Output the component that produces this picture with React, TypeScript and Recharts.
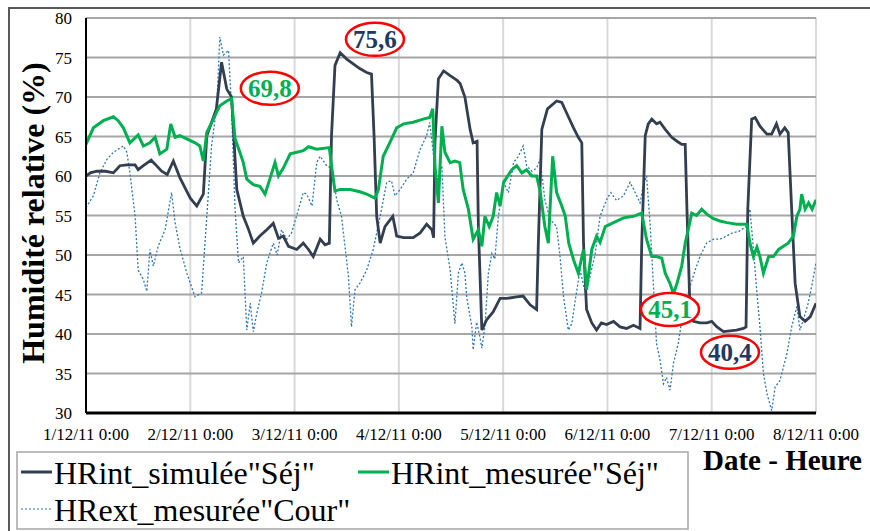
import { CartesianGrid, Line, LineChart, ReferenceDot, XAxis, YAxis } from "recharts";

const SERIF = "Liberation Serif, Times New Roman, serif";
const NAVY = "#333f50";
const GREEN = "#00b050";
const BLUE = "#2e75b6";

const DAY_LABELS = [
  "1/12/11 0:00", "2/12/11 0:00", "3/12/11 0:00", "4/12/11 0:00",
  "5/12/11 0:00", "6/12/11 0:00", "7/12/11 0:00", "8/12/11 0:00",
];
const X_TICKS = [0, 24, 48, 72, 96, 120, 144, 168];
const Y_TICKS = [30, 35, 40, 45, 50, 55, 60, 65, 70, 75, 80];

// HRint_simulée "Séj" (hours since 1/12/11 0:00)
const simHours = [
  0, 1, 2.5, 4.5, 6.3, 7.8, 9.4, 11.3, 12, 13.2, 15, 15.9, 17.4, 18.7, 20.1, 21.6, 24, 25.5, 27, 27.8,
  30, 31.2, 32.4, 33.5, 34.7, 36.2, 37.3, 38.5, 40, 41.6, 43.1, 44.3, 45.4, 46.6, 48.5, 50, 51.2, 52.3, 53.9, 55,
  56, 56.5, 57.3, 58.5, 60, 61.5, 63, 64.6, 65.7, 66.3, 66.9, 67.7, 68.8, 70.6, 71.5, 73.1, 75.3, 76.9, 78.4, 79.6,
  80, 80.3, 81.1, 82.3, 83.8, 85.4, 86.1, 87.2, 88.4, 89.1, 90, 90.3, 91.1, 92.2, 93.7, 95.3, 96.8, 99.1, 100.6, 102.2,
  103.7, 104.1, 104.9, 106.2, 108.3, 109.5, 110.5, 112.2, 113.3, 114.1, 114.5, 115.2, 116.4, 117.5, 118.6, 119.8, 121.4, 122.9, 124.4, 126,
  127.5, 127.9, 128.7, 129.4, 130.2, 131.3, 132.1, 133.3, 134.8, 136, 137.1, 137.9, 138.3, 139, 139.8, 141.3, 142.9, 144, 145.2, 146.7,
  148.2, 149.7, 151.3, 151.9, 152.3, 153.2, 154, 155.1, 156.7, 157.8, 158.9, 159.7, 160.8, 161.6, 162.4, 163.2, 164.3, 165.5, 166.7, 168,
];
const simValues = [
  60.0, 60.4, 60.6, 60.6, 60.4, 61.3, 61.4, 61.4, 60.8, 61.3, 62.0, 61.5, 60.6, 60.2, 61.9, 59.8, 57.2, 56.2, 57.7, 65.1,
  68.5, 74.4, 71.0, 70.0, 58.3, 54.9, 53.4, 51.5, 52.4, 53.2, 54.0, 52.1, 52.4, 51.1, 50.7, 51.5, 50.7, 49.8, 52.0, 51.3,
  51.5, 65.1, 74.0, 75.6, 74.8, 74.2, 73.6, 73.1, 72.9, 65.0, 54.9, 51.5, 53.6, 54.9, 52.4, 52.2, 52.2, 52.8, 53.9, 53.2,
  52.2, 64.2, 72.3, 73.3, 72.7, 72.1, 71.7, 70.0, 65.9, 64.2, 64.4, 53.6, 40.5, 41.8, 42.8, 44.5, 44.5, 44.7, 44.8, 43.7,
  43.1, 51.5, 65.9, 68.5, 69.5, 69.3, 68.1, 66.1, 64.9, 64.2, 51.5, 43.1, 41.4, 40.5, 41.4, 41.2, 41.6, 40.9, 40.7, 41.1,
  40.7, 51.5, 65.1, 66.6, 67.2, 66.6, 66.8, 65.9, 64.9, 64.4, 64.0, 64.0, 55.8, 43.1, 41.6, 41.4, 41.4, 41.6, 40.9, 40.3,
  40.4, 40.5, 40.7, 40.9, 55.8, 67.2, 67.4, 66.3, 65.3, 65.3, 66.6, 65.3, 66.1, 65.5, 55.8, 46.4, 42.2, 41.6, 42.2, 43.9,
];

// HRint_mesurée "Séj"
const mesHours = [
  0, 1.7, 4, 6.3, 7.4, 8.6, 10.1, 12, 13.2, 14.7, 15.9, 17, 18.6, 19.5, 20.5, 21.6, 23.2, 25.1, 26.2, 27,
  27.8, 29.3, 30.8, 32.4, 33.5, 34.3, 35.4, 36.2, 37, 38.5, 40, 41.2, 42.3, 43.5, 44.3, 45.4, 47, 48.5, 50, 51.2,
  53.1, 56, 56.5, 57.3, 58.5, 60.8, 63, 64.6, 66.5, 67.3, 68.4, 69.9, 71.5, 73.1, 75.3, 77.6, 79.1, 79.8, 80.3, 81.1,
  81.9, 82.6, 83.8, 84.9, 86, 86.8, 88, 89.1, 90.3, 91.1, 91.8, 92.8, 93.7, 94.5, 95.3, 96.1, 98, 99.1, 100.3, 101.4,
  102.6, 103.7, 104.5, 105.6, 106.4, 107.4, 108.3, 109.5, 110.3, 111.1, 112.2, 113.3, 114.5, 115.2, 116.4, 117.5, 118.3, 119.5, 121.4, 123.7,
  126, 127.9, 129, 130.2, 131.3, 132.5, 133.3, 134.4, 135.2, 136, 137.1, 137.9, 138.6, 139.4, 140.5, 141.7, 142.8, 144.4, 145.9, 147.5,
  149.8, 152.1, 152.8, 153.6, 154.4, 155.1, 155.9, 157.1, 158.2, 159.4, 160.5, 161.6, 162.8, 163.6, 164.3, 164.7, 165.5, 166.3, 167.1, 168,
];
const mesValues = [
  64.0, 66.1, 67.0, 67.5, 67.0, 66.1, 64.2, 65.2, 63.8, 64.2, 64.9, 62.8, 63.4, 66.6, 64.9, 65.1, 64.7, 64.2, 63.8, 61.9,
  65.5, 67.2, 68.9, 69.5, 69.8, 64.7, 63.0, 61.7, 59.6, 58.9, 58.7, 57.7, 59.6, 61.7, 60.0, 61.0, 62.8, 63.0, 63.2, 63.7,
  63.4, 63.6, 61.3, 58.1, 58.3, 58.3, 58.0, 57.7, 57.2, 58.3, 62.5, 64.2, 66.1, 66.6, 66.8, 67.2, 67.4, 68.5, 61.3, 56.6,
  66.3, 63.0, 61.7, 61.9, 61.7, 58.3, 55.8, 52.0, 53.2, 51.1, 54.9, 53.6, 54.9, 57.9, 56.2, 59.2, 60.8, 61.3, 60.4, 60.8,
  60.0, 60.0, 58.1, 53.6, 51.5, 62.5, 57.9, 56.2, 54.9, 51.5, 49.4, 47.7, 50.7, 45.6, 50.7, 52.4, 51.6, 53.6, 54.1, 54.7,
  54.9, 55.3, 52.0, 49.8, 49.8, 49.6, 47.7, 46.4, 45.1, 46.4, 48.6, 51.5, 53.2, 55.3, 55.0, 55.8, 55.2, 54.6, 54.3, 54.1,
  53.9, 53.9, 51.5, 49.8, 51.0, 49.8, 47.7, 49.8, 49.8, 50.7, 51.1, 51.5, 52.4, 54.9, 55.8, 57.7, 55.8, 56.6, 55.8, 57.0,
];

// HRext_mesurée "Cour"
const extHours = [
  0, 1.7, 3.2, 4.8, 6.3, 8.6, 9.4, 10.1, 11.3, 12, 13.2, 14, 14.7, 15.5, 16.6, 18.2, 19.7, 20.5, 21.6, 23.2,
  25.1, 26.6, 27.8, 28.9, 30.1, 30.8, 31.6, 32.8, 33.5, 34.3, 35.1, 36.2, 37, 37.8, 38.5, 39.3, 40.4, 41.6, 43.1, 44,
  45, 46.2, 47.3, 48.5, 50, 50.8, 52, 53.1, 53.9, 55.4, 56.5, 57.7, 58.8, 60.4, 61.1, 61.9, 63, 64.6, 66.1, 67.7,
  69.2, 70.3, 71.1, 72.3, 73.8, 75.3, 76.9, 78.4, 79.1, 79.9, 80.7, 81.9, 82.6, 83.8, 84.9, 85.7, 86.5, 87.2, 87.6, 88.8,
  89.1, 89.9, 90.7, 91.1, 91.8, 92.6, 93.4, 94.1, 94.9, 96.1, 97.2, 98.4, 99.5, 100.6, 101.4, 102.6, 103.7, 104.5, 105.6, 106.8,
  108.3, 109.1, 109.9, 111, 111.8, 112.6, 113.7, 114.9, 116, 117.2, 118.3, 119.8, 120.8, 122.1, 123.7, 125.2, 126.4, 127.5, 128.3, 129,
  129.8, 130.6, 131.3, 132.1, 132.9, 133.6, 134.4, 135.2, 136.3, 137.5, 139, 140.2, 141.3, 142.8, 144.4, 145.9, 147.4, 148.8, 150.3, 151.9,
  152.8, 153.6, 154.4, 155.1, 155.9, 156.7, 157.8, 158.6, 159.7, 161.3, 162.4, 163.6, 164.3, 165.1, 166.2, 167, 168,
];
const extValues = [
  56.0, 57.5, 60.4, 62.1, 63.0, 63.8, 63.0, 60.4, 54.9, 48.1, 46.9, 45.4, 50.7, 48.6, 51.1, 53.2, 57.9, 54.1, 50.9, 47.7,
  44.7, 45.2, 54.9, 63.8, 68.9, 77.6, 75.3, 75.9, 68.5, 55.8, 49.0, 49.8, 40.5, 43.9, 40.3, 42.6, 45.2, 49.0, 51.5, 50.0,
  53.2, 52.0, 52.8, 55.0, 57.9, 57.7, 56.2, 61.7, 62.5, 61.3, 61.0, 57.0, 54.9, 47.3, 40.9, 45.6, 46.4, 48.1, 50.7, 54.9,
  59.2, 59.4, 57.5, 58.3, 59.6, 60.4, 63.4, 65.1, 66.8, 63.0, 59.2, 61.3, 52.3, 48.1, 41.3, 47.7, 49.0, 47.7, 44.7, 40.9,
  38.0, 41.5, 39.5, 38.2, 40.9, 47.7, 50.2, 49.5, 54.9, 59.2, 57.9, 61.7, 62.5, 63.8, 61.3, 60.6, 61.0, 62.1, 57.0, 54.5,
  53.6, 49.8, 44.7, 40.5, 41.3, 44.3, 48.1, 45.2, 47.3, 50.2, 54.9, 57.0, 57.9, 56.9, 57.5, 59.2, 57.9, 56.6, 58.9, 60.0,
  54.1, 46.0, 38.8, 36.7, 33.7, 34.5, 32.9, 36.3, 38.8, 43.1, 46.0, 48.1, 49.8, 51.5, 52.0, 52.0, 52.4, 52.8, 53.0, 53.6,
  55.8, 50.7, 45.2, 40.9, 35.0, 32.5, 30.3, 33.3, 34.1, 37.5, 40.9, 43.5, 40.5, 41.8, 43.9, 46.0, 49.0,
];

const CALLOUTS = [
  { h: 42.3, v: 71.1, text: "69,8", color: GREEN },
  { h: 66.5, v: 77.3, text: "75,6", color: "#1f3864" },
  { h: 134.4, v: 43.1, text: "45,1", color: GREEN },
  { h: 148.2, v: 37.7, text: "40,4", color: "#1f3864" },
];

const zip = (hs: number[], vs: number[]) => hs.map((h, i) => ({ h, v: vs[i] }));
const simData = zip(simHours, simValues);
const mesData = zip(mesHours, mesValues);
const extData = zip(extHours, extValues);

const tickStyle = { fill: "#000", fontFamily: SERIF, fontSize: 17 };

function Callout({ cx, cy, text, color }: { cx?: number; cy?: number; text: string; color: string }) {
  if (cx == null || cy == null) return null;
  return (
    <g>
      <ellipse cx={cx} cy={cy} rx={29} ry={16.5} fill="#fff" stroke="#f00" strokeWidth={2.5} />
      <text x={cx} y={cy} dy="0.35em" textAnchor="middle" style={{ fontFamily: SERIF }} fontWeight="bold" fontSize={25} fill={color}>
        {text}
      </text>
    </g>
  );
}

function LegendRow({ x, y, color, dashed, label }: { x: number; y: number; color: string; dashed?: boolean; label: string }) {
  return (
    <g>
      <line x1={x} x2={x + 31} y1={y - 12} y2={y - 12} stroke={color} strokeWidth={dashed ? 1.2 : 3} strokeDasharray={dashed ? "2 2" : undefined} />
      <text x={x + 33} y={y} style={{ fontFamily: SERIF }} fontSize={32} fill="#000">
        {label}
      </text>
    </g>
  );
}

export default function App() {
  return (
    <div style={{ position: "absolute", left: 0, top: 0, width: 870, height: 531, background: "#fff", overflow: "hidden", fontFamily: SERIF }}>
      <div style={{ position: "absolute", left: 8, top: 7, width: 870, height: 531, borderTop: "2px solid #595959", borderLeft: "2px solid #595959" }} />
      <LineChart width={870} height={531} margin={{ top: 18, right: 54, left: 26, bottom: 78 }} style={{ position: "absolute", left: 0, top: 0, fontFamily: SERIF }}>
        <CartesianGrid horizontal={false} stroke="#d9d9d9" strokeWidth={2} />
        <CartesianGrid vertical={false} stroke="#a6a6a6" strokeWidth={2} />
        <XAxis
          type="number"
          dataKey="h"
          domain={[0, 168]}
          ticks={X_TICKS}
          tickFormatter={(h: number) => DAY_LABELS[Math.round(h / 24)]}
          tick={tickStyle}
          tickLine={false}
          tickSize={13}
          height={40}
          axisLine={{ stroke: "#000", strokeWidth: 3 }}
          allowDataOverflow
        />
        <YAxis
          type="number"
          domain={[30, 80]}
          ticks={Y_TICKS}
          tick={tickStyle}
          tickLine={false}
          tickSize={12}
          width={60}
          axisLine={{ stroke: "#000", strokeWidth: 2 }}
          label={{
            content: () => (
              <text transform="translate(44,213) rotate(-90)" textAnchor="middle" style={{ fontFamily: SERIF }} fontWeight="bold" fontSize={32} fill="#000">
                Humidité relative (%)
              </text>
            ),
          }}
        />
        <Line data={extData} dataKey="v" type="linear" stroke={BLUE} strokeWidth={1.3} strokeDasharray="2 2" dot={false} isAnimationActive={false} />
        <Line data={simData} dataKey="v" type="linear" stroke={NAVY} strokeWidth={2.8} dot={false} isAnimationActive={false} />
        <Line data={mesData} dataKey="v" type="linear" stroke={GREEN} strokeWidth={3} dot={false} isAnimationActive={false} />
        {CALLOUTS.map((c) => (
          <ReferenceDot
            key={c.text}
            x={c.h}
            y={c.v}
            r={0}
            ifOverflow="visible"
            shape={(p: any) => <Callout cx={p.cx} cy={p.cy} text={c.text} color={c.color} />}
          />
        ))}
      </LineChart>
      <svg width={870} height={531} style={{ position: "absolute", left: 0, top: 0, pointerEvents: "none" }}>
        <rect x={17} y={452} width={671} height={77} fill="#fff" stroke="#a6a6a6" strokeWidth={1.5} />
        <LegendRow x={21} y={484} color={NAVY} label={'HRint_simulée"Séj"'} />
        <LegendRow x={358} y={484} color={GREEN} label={'HRint_mesurée"Séj"'} />
        <LegendRow x={21} y={521} color={BLUE} dashed label={'HRext_mesurée"Cour"'} />
        <text x={703} y={470} style={{ fontFamily: SERIF }} fontWeight="bold" fontSize={29} fill="#000">
          Date - Heure
        </text>
      </svg>
    </div>
  );
}
